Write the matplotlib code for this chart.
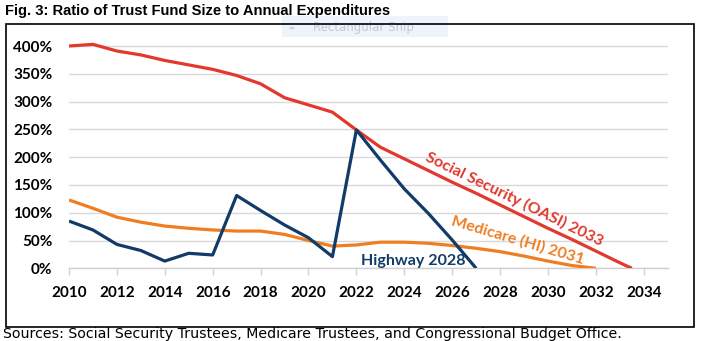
import matplotlib.pyplot as plt
from matplotlib.patches import Rectangle, Circle

# ratio of trust fund balance to annual outlays, in percent
oasi_years = list(range(2010, 2034)) + [2033.5]
oasi = [400, 403, 391, 384, 374, 366, 358, 347, 332, 307, 294, 281,
        249, 218, 197, 176, 155, 135, 114, 93, 72, 52, 31, 10, 0]

hi_years = list(range(2010, 2033))
hi = [123, 108, 92, 83, 76, 72, 69, 67, 67, 61, 50, 40,
      42, 47, 47, 45, 41, 36, 30, 22, 13, 5, 0]

hwy_years = list(range(2010, 2028))
hwy = [85, 69, 43, 32, 13, 27, 24, 131, 104, 78, 55, 21,
       249, 195, 143, 99, 51, 0]

xticks = list(range(2010, 2035, 2))
yticks = list(range(0, 401, 50))

RED = '#e2382d'
ORANGE = '#ef7d22'
NAVY = '#123b69'

fig = plt.figure(figsize=(7.03, 3.41), dpi=100)
W, H = 703, 341


def fx(px):
    return px / W


def fy(py):
    return 1 - py / H


# border round the chart
fig.patches.append(Rectangle((fx(6), fy(327)), fx(694.3) - fx(6), fy(24.3) - fy(327),
                             transform=fig.transFigure, fill=False,
                             edgecolor='black', linewidth=1.2, zorder=1))

# faint snipping tool tooltip left in the screenshot
fig.patches.append(Rectangle((fx(282), fy(37)), fx(448) - fx(282), fy(16) - fy(37),
                             transform=fig.transFigure, facecolor='#eef4fc',
                             edgecolor='none', zorder=0))
fig.patches.append(Circle((fx(292), fy(28)), 0.004, transform=fig.transFigure,
                          facecolor='#d0d4da', edgecolor='none', zorder=0))
fig.text(fx(313), fy(27.5), 'Rectangular Snip', fontsize=8.5, color='#c3c8d1',
         family='DejaVu Sans', va='center', ha='left', zorder=0)

fig.text(fx(5), fy(11), 'Fig. 3: Ratio of Trust Fund Size to Annual Expenditures',
         fontsize=10.6, fontweight='bold', family='Liberation Sans',
         va='center', ha='left', zorder=3)
fig.text(fx(3), fy(337.6), 'Sources: Social Security Trustees, Medicare Trustees, '
         'and Congressional Budget Office.', fontsize=10.2, family='DejaVu Sans',
         va='baseline', ha='left')

ymax = 410
ax = fig.add_axes([fx(69), fy(268.3), fx(667.7) - fx(69),
                   fy(268.3 - ymax * 0.5557) - fy(268.3)])
ax.set_xlim(2010, 2035)
ax.set_ylim(0, ymax)

ax.plot(oasi_years, oasi, color=RED, lw=2.3, solid_capstyle='butt', zorder=3)
ax.plot(hi_years, hi, color=ORANGE, lw=2.3, solid_capstyle='butt', zorder=3)
ax.plot(hwy_years, hwy, color=NAVY, lw=2.3, solid_capstyle='butt', zorder=4)

for s in ['left', 'right', 'top']:
    ax.spines[s].set_visible(False)
ax.spines['bottom'].set_color('#d0d0d0')
ax.spines['bottom'].set_linewidth(1)

ax.set_yticks(yticks)
ax.set_yticklabels([f'{v}%' for v in yticks])
ax.set_xticks(xticks)
ax.set_xticklabels([str(v) for v in xticks])
ax.yaxis.grid(True, color='#d9d9d9', linewidth=1)
ax.set_axisbelow(True)
ax.tick_params(axis='y', length=0, pad=12)
ax.tick_params(axis='x', length=5, width=1, color='#d0d0d0', pad=8)
for lab in ax.get_xticklabels() + ax.get_yticklabels():
    lab.set_family('Lato')
    lab.set_fontweight('bold')
    lab.set_fontsize(11)

ax.text(2028.6, 125, 'Social Security (OASI) 2033', color=RED, rotation=-26,
        rotation_mode='anchor', ha='center', va='center', fontsize=11.5,
        fontweight='bold', family='Lato')
ax.text(2028.75, 51, 'Medicare (HI) 2031', color=ORANGE, rotation=-16.5,
        rotation_mode='anchor', ha='center', va='center', fontsize=11.5,
        fontweight='bold', family='Lato')
ax.text(2024.38, 13, 'Highway 2028', color=NAVY, ha='center', va='center',
        fontsize=11.5, fontweight='bold', family='Lato')

fig.savefig('out.png', dpi=100)
